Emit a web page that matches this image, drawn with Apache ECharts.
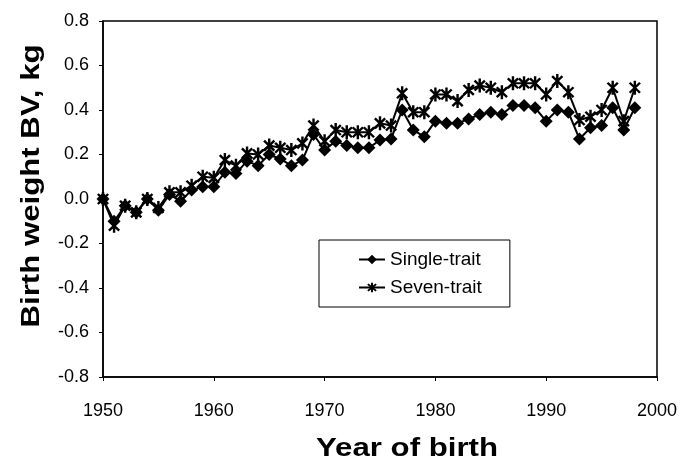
<!DOCTYPE html>
<html><head><meta charset="utf-8">
<script src="https://cdn.jsdelivr.net/npm/echarts@6/dist/echarts.min.js"></script>
<style>html,body{margin:0;padding:0;background:#fff}#c{width:697px;height:468px}</style>
</head><body><div id="c"></div>
<script>
const years = [];
for (let y = 1950; y <= 1998; y++) years.push(y);
const singleTrait = [0.00,-0.10,-0.03,-0.06,0.00,-0.05,0.02,-0.01,0.04,0.055,0.055,0.12,0.115,0.17,0.15,0.20,0.18,0.15,0.175,0.29,0.22,0.26,0.24,0.23,0.23,0.265,0.27,0.40,0.31,0.28,0.35,0.34,0.34,0.36,0.38,0.39,0.38,0.42,0.42,0.41,0.35,0.40,0.39,0.27,0.32,0.33,0.41,0.31,0.41];
const sevenTrait = [0.00,-0.12,-0.03,-0.06,0.00,-0.04,0.03,0.03,0.06,0.10,0.095,0.175,0.15,0.205,0.20,0.24,0.23,0.22,0.25,0.33,0.26,0.31,0.30,0.30,0.30,0.34,0.33,0.475,0.39,0.39,0.47,0.47,0.44,0.49,0.51,0.50,0.48,0.52,0.52,0.52,0.47,0.53,0.48,0.355,0.37,0.40,0.50,0.35,0.50];
const seriesNames = ['Single-trait','Seven-trait'];
const xTitle = 'Year of birth';
const yTitle = 'Birth weight BV, kg';

const starPath = 'path://M1,-6L-1,-6L-1,6L1,6Z M-3.54,-4.95L-4.95,-3.54L3.54,4.95L4.95,3.54Z M-4.95,3.54L-3.54,4.95L4.95,-3.54L3.54,-4.95Z';
const font = 'Liberation Sans, Arial, sans-serif';
const chart = echarts.init(document.getElementById('c'));
const pairs = a => a.map((v,i)=>[years[i], v]);
chart.setOption({
  animation: false,
  backgroundColor: '#fff',
  grid: {left: 103, right: 40, top: 21, bottom: 91, show: true, borderColor: '#000', borderWidth: 1.5, backgroundColor: 'transparent'},
  xAxis: {
    type: 'value', min: 1950, max: 2000, interval: 10,
    axisLine: {show: true, onZero: false, lineStyle: {color: '#000', width: 1.5}},
    axisTick: {show: true, length: 4, lineStyle: {color: '#000'}},
    axisLabel: {fontFamily: font, fontSize: 18, color: '#000', margin: 25, formatter: v => String(v)},
    splitLine: {show: false}
  },
  yAxis: {
    type: 'value', min: -0.8, max: 0.8, interval: 0.2,
    axisLine: {show: true, lineStyle: {color: '#000', width: 1.5}},
    axisTick: {show: true, length: 4, lineStyle: {color: '#000'}},
    axisLabel: {fontFamily: font, fontSize: 18, color: '#000', margin: 14, formatter: v => v.toFixed(1)},
    splitLine: {show: false}
  },
  graphic: [
    {type: 'text', x: 407, y: 449, scaleX: 1.2, silent: true,
     style: {text: xTitle, fontFamily: font, fontWeight: 'bold', fontSize: 26, fill: '#000', align: 'center', verticalAlign: 'middle'}},
    {type: 'text', x: 32, y: 186, rotation: Math.PI / 2, scaleX: 1.2, silent: true,
     style: {text: yTitle, fontFamily: font, fontWeight: 'bold', fontSize: 26, fill: '#000', align: 'center', verticalAlign: 'middle'}}
  ],
  legend: {
    orient: 'vertical', left: 319, top: 240,
    borderColor: '#000', borderWidth: 1, padding: [10, 28, 10, 39],
    itemWidth: 26, itemHeight: 12, itemGap: 9,
    textStyle: {fontFamily: font, fontSize: 19, color: '#000'},
    data: seriesNames
  },
  series: [
    {name: seriesNames[0], type: 'line', data: pairs(singleTrait), symbol: 'diamond', symbolSize: 13,
     lineStyle: {color: '#000', width: 2}, itemStyle: {color: '#000'}, z: 3},
    {name: seriesNames[1], type: 'line', data: pairs(sevenTrait), symbol: starPath, symbolSize: [12, 14],
     lineStyle: {color: '#000', width: 2}, itemStyle: {color: '#000'}, z: 2}
  ]
});
</script></body></html>
